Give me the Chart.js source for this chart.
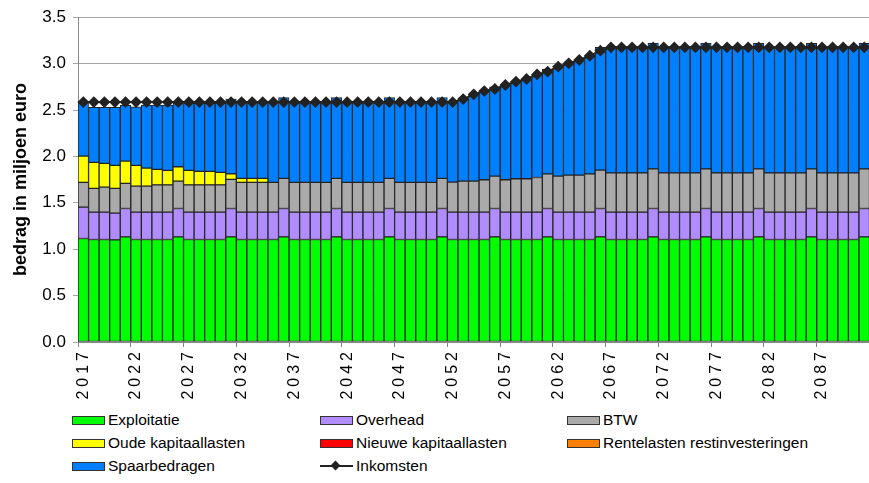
<!DOCTYPE html>
<html>
<head>
<meta charset="utf-8">
<script src="https://cdn.jsdelivr.net/npm/chart.js@4.4.1/dist/chart.umd.min.js"></script>
<style>
  body { margin: 0; background: #fff; font-family: Arial, "Liberation Sans", sans-serif; overflow: hidden; }
  #wrap { position: relative; width: 869px; height: 483px; overflow: hidden; }
  #c { position: absolute; left: 0; top: 0; }
  #legend { position: absolute; left: 0; top: 409px; width: 869px; }
  .item { position: absolute; display: flex; align-items: center; font-size: 15.5px; color: #000; white-space: nowrap; }
  .box { width: 31px; height: 7px; border: 1px solid #333; margin-right: 3px; }
  .lineKey { position: relative; width: 33px; height: 10px; margin-right: 3px; }
  .lineKey::before { content: ""; position: absolute; left: 0; right: 0; top: 4px; height: 2px; background: #222; }
  .lineKey::after { content: ""; position: absolute; left: 12px; top: 1px; width: 7px; height: 7px; background: #222; transform: rotate(45deg); }
</style>
</head>
<body>
<div id="wrap">
  <canvas id="c" width="876" height="405"></canvas>
  <div id="legend"></div>
</div>
<script>
var years = [2017,2018,2019,2020,2021,2022,2023,2024,2025,2026,2027,2028,2029,2030,2031,
  2032,2033,2034,2035,2036,2037,2038,2039,2040,2041,2042,2043,2044,2045,2046,
  2047,2048,2049,2050,2051,2052,2053,2054,2055,2056,2057,2058,2059,2060,2061,
  2062,2063,2064,2065,2066,2067,2068,2069,2070,2071,2072,2073,2074,2075,2076,
  2077,2078,2079,2080,2081,2082,2083,2084,2085,2086,2087,2088,2089,2090,2091];

var exploitatie = [1.115,1.105,1.105,1.100,1.133, 1.105,1.105,1.105,1.105,1.133,
  1.105,1.105,1.105,1.105,1.133, 1.105,1.105,1.105,1.105,1.133,
  1.105,1.105,1.105,1.105,1.133, 1.105,1.105,1.105,1.105,1.133,
  1.105,1.105,1.105,1.105,1.133, 1.105,1.105,1.105,1.105,1.133,
  1.105,1.105,1.105,1.105,1.133, 1.105,1.105,1.105,1.105,1.133,
  1.105,1.105,1.105,1.105,1.133, 1.105,1.105,1.105,1.105,1.133,
  1.105,1.105,1.105,1.105,1.133, 1.105,1.105,1.105,1.105,1.133,
  1.105,1.105,1.105,1.105,1.133];

var overhead = [0.338,0.294,0.294,0.288,0.306, 0.294,0.294,0.294,0.294,0.306,
  0.294,0.294,0.294,0.294,0.306, 0.294,0.294,0.294,0.294,0.306,
  0.294,0.294,0.294,0.294,0.306, 0.294,0.294,0.294,0.294,0.306,
  0.294,0.294,0.294,0.294,0.306, 0.294,0.294,0.294,0.294,0.306,
  0.294,0.294,0.294,0.294,0.306, 0.294,0.294,0.294,0.294,0.306,
  0.294,0.294,0.294,0.294,0.306, 0.294,0.294,0.294,0.294,0.306,
  0.294,0.294,0.294,0.294,0.306, 0.294,0.294,0.294,0.294,0.306,
  0.294,0.294,0.294,0.294,0.306];

var btw = [0.267,0.256,0.270,0.267,0.270, 0.281,0.281,0.295,0.295,0.295,
  0.295,0.295,0.295,0.295,0.313, 0.321,0.321,0.321,0.321,0.324,
  0.321,0.321,0.321,0.321,0.324, 0.321,0.321,0.321,0.321,0.324,
  0.321,0.321,0.321,0.321,0.324, 0.324,0.334,0.334,0.349,0.348,
  0.349,0.360,0.360,0.374,0.373, 0.388,0.399,0.399,0.413,0.413,
  0.424,0.424,0.424,0.424,0.427, 0.424,0.424,0.424,0.424,0.427,
  0.424,0.424,0.424,0.424,0.427, 0.424,0.424,0.424,0.424,0.427,
  0.424,0.424,0.424,0.424,0.427];

var oudeKapitaallasten = [0.283,0.280,0.255,0.248,0.240, 0.223,0.194,0.166,0.155,0.154,
  0.155,0.144,0.144,0.133,0.060, 0.043,0.043,0.043,0,0,
  0,0,0,0,0, 0,0,0,0,0, 0,0,0,0,0, 0,0,0,0,0, 0,0,0,0,0,
  0,0,0,0,0, 0,0,0,0,0, 0,0,0,0,0, 0,0,0,0,0, 0,0,0,0,0, 0,0,0,0,0];

var nieuweKapitaallasten = [0,0,0,0,0, 0,0,0,0,0, 0,0,0,0,0, 0,0,0,0,0, 0,0,0,0,0,
  0,0,0,0,0, 0,0,0,0,0, 0,0,0,0,0, 0,0,0,0,0, 0,0,0,0,0,
  0,0,0,0,0, 0,0,0,0,0, 0,0,0,0,0, 0,0,0,0,0, 0,0,0,0,0];

var rentelasten = [0,0,0,0,0, 0,0,0,0,0, 0,0,0,0,0, 0,0,0,0,0, 0,0,0,0,0,
  0,0,0,0,0, 0,0,0,0,0, 0,0,0,0,0, 0,0,0,0,0, 0,0,0,0,0,
  0,0,0,0,0, 0,0,0,0,0, 0,0,0,0,0, 0,0,0,0,0, 0,0,0,0,0];

var spaarbedragen = [0.586,0.594,0.605,0.626,0.601, 0.632,0.679,0.693,0.704,0.684,
  0.723,0.734,0.734,0.745,0.806, 0.817,0.817,0.817,0.860,0.871,
  0.860,0.860,0.860,0.860,0.871, 0.860,0.860,0.860,0.860,0.871,
  0.860,0.860,0.860,0.860,0.872, 0.863,0.885,0.936,0.956,0.964,
  1.021,1.046,1.075,1.111,1.130, 1.180,1.205,1.241,1.273,1.323,
  1.352,1.352,1.352,1.352,1.353, 1.352,1.352,1.352,1.352,1.353,
  1.352,1.352,1.352,1.352,1.353, 1.352,1.352,1.352,1.352,1.353,
  1.352,1.352,1.352,1.352,1.353];

var inkomsten = [2.585,2.585,2.585,2.585,2.585, 2.585,2.585,2.585,2.585,2.585,
  2.585,2.585,2.585,2.585,2.585, 2.585,2.585,2.585,2.585,2.585,
  2.585,2.585,2.585,2.585,2.585, 2.585,2.585,2.585,2.585,2.585,
  2.585,2.585,2.585,2.585,2.585, 2.585,2.618,2.669,2.704,2.726,
  2.769,2.805,2.834,2.884,2.913, 2.967,3.003,3.039,3.085,3.139,
  3.175,3.175,3.175,3.175,3.175, 3.175,3.175,3.175,3.175,3.175,
  3.175,3.175,3.175,3.175,3.175, 3.175,3.175,3.175,3.175,3.175,
  3.175,3.175,3.175,3.175,3.175];

var yTicks = [0, 0.5, 1.0, 1.5, 2.0, 2.5, 3.0, 3.5];

function barSet(label, data, color) {
    return {
        type: "bar",
        label: label,
        data: data,
        backgroundColor: color,
        borderColor: "#222",
        borderWidth: 1,
        borderSkipped: false,
        barPercentage: 1,
        categoryPercentage: 1,
        order: 1
    };
}

var datasets = [
    barSet("Exploitatie", exploitatie, "#00ff00"),
    barSet("Overhead", overhead, "#b18cff"),
    barSet("BTW", btw, "#aaaaaa"),
    barSet("Oude kapitaallasten", oudeKapitaallasten, "#ffff00"),
    barSet("Nieuwe kapitaallasten", nieuweKapitaallasten, "#ff0000"),
    barSet("Rentelasten restinvesteringen", rentelasten, "#ff8000"),
    barSet("Spaarbedragen", spaarbedragen, "#0080ff"),
    {
        type: "line",
        label: "Inkomsten",
        data: inkomsten,
        borderColor: "#222",
        backgroundColor: "#222",
        borderWidth: 2,
        pointStyle: "rectRot",
        pointRadius: 4.5,
        pointHoverRadius: 4.5,
        tension: 0,
        stack: "ink",
        order: 0
    }
];

// wider spacing for the rotated year labels only
var spacedYears = {
    id: "spacedYears",
    afterLayout: function (chart) {
        var sx = chart.scales.x;
        if (sx._spaced) return;
        var orig = sx.drawLabels.bind(sx);
        sx.drawLabels = function (area) {
            chart.ctx.save();
            chart.ctx.letterSpacing = "4px";
            orig(area);
            chart.ctx.restore();
        };
        sx._spaced = true;
    }
};

var ctx = document.getElementById("c").getContext("2d");
new Chart(ctx, {
    type: "bar",
    data: { labels: years, datasets: datasets },
    plugins: [spacedYears],
    options: {
        responsive: false,
        animation: false,
        layout: { padding: { top: 7, right: 0, left: 0, bottom: 0 } },
        plugins: {
            legend: { display: false },
            tooltip: { enabled: false }
        },
        scales: {
            x: {
                stacked: true,
                border: { color: "#888" },
                grid: {
                    offset: true,
                    drawOnChartArea: false,
                    tickLength: 5,
                    tickColor: function (c) { return c.index % 5 === 0 ? "#888" : "rgba(0,0,0,0)"; }
                },
                ticks: {
                    autoSkip: false,
                    maxRotation: 90,
                    minRotation: 90,
                    padding: 1,
                    color: "#000",
                    font: { family: "Arial", size: 16 },
                    callback: function (v, i) { return i % 5 === 0 ? String(years[i]) : ""; }
                },
                afterFit: function (s) {
                    s.height = 63;
                    s.paddingLeft = 0;
                    s.paddingRight = 0;
                }
            },
            y: {
                stacked: true,
                min: 0,
                max: 3.5,
                afterBuildTicks: function (s) { s.ticks = yTicks.map(function (v) { return { value: v }; }); },
                border: { color: "#888" },
                grid: { color: "#a6a6a6", tickLength: 5 },
                ticks: {
                    padding: 7,
                    color: "#000",
                    font: { family: "Arial", size: 17 },
                    callback: function (v) { return Number(v).toFixed(1); }
                },
                title: {
                    display: true,
                    text: "bedrag in miljoen euro",
                    color: "#000",
                    font: { family: "Arial", size: 18, weight: "bold" },
                    padding: { top: 10, bottom: 0 }
                },
                afterFit: function (s) { s.width = 78; }
            }
        }
    }
});

// legend in three columns, built from the datasets
var legendPos = [[72, 11], [320, 11], [567, 11], [72, 34], [320, 34], [567, 34], [72, 57], [320, 57]];
var legendEl = document.getElementById("legend");
datasets.forEach(function (ds, i) {
    var item = document.createElement("div");
    item.className = "item";
    item.style.left = legendPos[i][0] + "px";
    item.style.top = (legendPos[i][1] - 9) + "px";
    var key = document.createElement("span");
    if (ds.type === "line") {
        key.className = "lineKey";
    } else {
        key.className = "box";
        key.style.background = ds.backgroundColor;
    }
    item.appendChild(key);
    item.appendChild(document.createTextNode(ds.label));
    legendEl.appendChild(item);
});
</script>
</body>
</html>
